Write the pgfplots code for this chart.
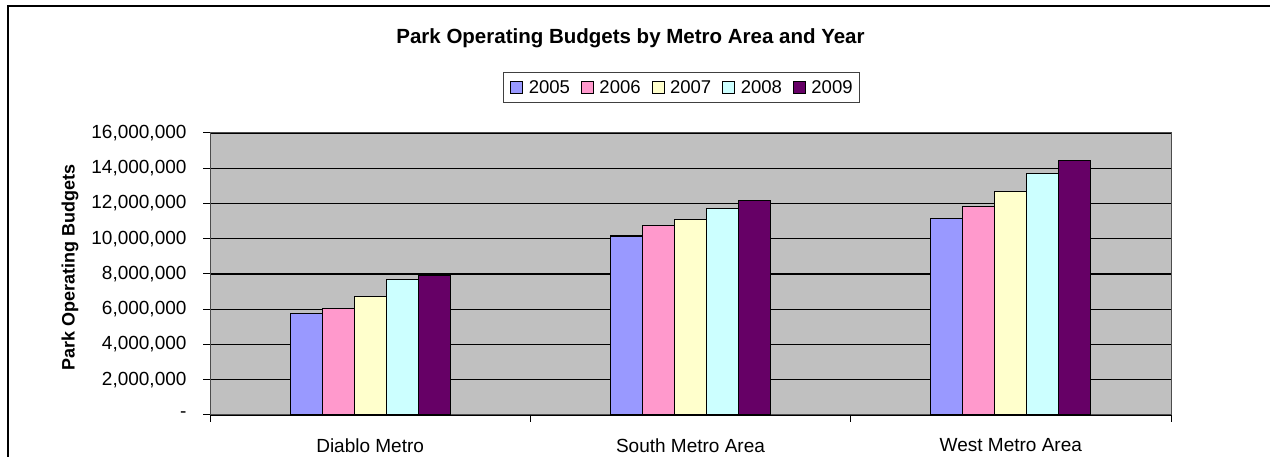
\documentclass[border=0pt]{standalone}
\usepackage{fontspec}
\setmainfont{Liberation Sans}
\usepackage{pgfplots}
\pgfplotsset{compat=1.18}
\definecolor{c05}{HTML}{9999FF}
\definecolor{c06}{HTML}{FF99CC}
\definecolor{c07}{HTML}{FFFFCC}
\definecolor{c08}{HTML}{CCFFFF}
\definecolor{c09}{HTML}{660066}
\definecolor{plotbg}{HTML}{C0C0C0}
\begin{document}
\begin{tikzpicture}[x=1pt,y=1pt]
\useasboundingbox (0,0) rectangle (1270,457);
\fill[white] (0,0) rectangle (1270,457);
\draw[line width=2pt, black] (8,-10) -- (8,451) -- (1280,451);
\node[font=\fontsize{20.5}{24}\selectfont\bfseries, anchor=base, inner sep=0pt] at (630.5,413) {Park Operating Budgets by Metro Area and Year};
\node[font=\fontsize{18}{21}\selectfont\bfseries, rotate=90, inner sep=0pt] at (70,189.5) {Park Operating Budgets};
\begin{axis}[
  at={(210pt,42pt)}, anchor=south west,
  scale only axis, width=961pt, height=282pt,
  ybar=0pt, bar width=32pt,
  xmin=-0.5, xmax=2.5, ymin=0, ymax=16000000,
  enlargelimits=false,
  axis background/.style={fill=plotbg},
  axis line style={draw=gray!60!black, line width=1pt},
  xtick={0,1,2},
  xticklabels={Diablo Metro, South Metro Area, West Metro Area},
  major x tick style={draw=none},
  minor xtick={-0.5,0.5,1.5,2.5},
  minor x tick style={draw=black, line width=1pt},
  minor tick length=7pt,
  major tick length=7pt,
  tick align=outside,
  xtick pos=left, ytick pos=left,
  ytick={0,2000000,4000000,6000000,8000000,10000000,12000000,14000000,16000000},
  yticklabels={-,{2,000,000},{4,000,000},{6,000,000},{8,000,000},{10,000,000},{12,000,000},{14,000,000},{16,000,000}},
  scaled y ticks=false,
  ymajorgrids,
  major grid style={draw=black, line width=1.1pt},
  major y tick style={draw=black, line width=1pt},
  tick label style={font=\fontsize{19}{22}\selectfont},
  xticklabel style={yshift=-13pt},
  yticklabel style={xshift=-13pt},
  legend style={at={(0.4906,1.1613)}, anchor=center, legend columns=5,
    draw=black!75, line width=1.2pt, fill=white,
    font=\fontsize{18.5}{21}\selectfont, inner xsep=7pt, inner ysep=8pt,
    nodes={inner sep=0pt},
    /tikz/every even column/.append style={column sep=11pt}},
  legend image code/.code={\path[draw=none,fill=none] (0pt,0pt) -- (18pt,0pt);\draw[#1, line width=1pt, draw=black] (0pt,-6pt) rectangle (12pt,6pt);},
]
\addplot[fill=c05, draw=black, line width=1.2pt] coordinates {(0,5780000) (1,10150000) (2,11170000)};
\addplot[fill=c06, draw=black, line width=1.2pt] coordinates {(0,6040000) (1,10770000) (2,11830000)};
\addplot[fill=c07, draw=black, line width=1.2pt] coordinates {(0,6710000) (1,11090000) (2,12680000)};
\addplot[fill=c08, draw=black, line width=1.2pt] coordinates {(0,7690000) (1,11700000) (2,13680000)};
\addplot[fill=c09, draw=black, line width=1.2pt] coordinates {(0,7900000) (1,12170000) (2,14420000)};
\legend{2005,2006,2007,2008,2009}
\end{axis}
\end{tikzpicture}
\end{document}
